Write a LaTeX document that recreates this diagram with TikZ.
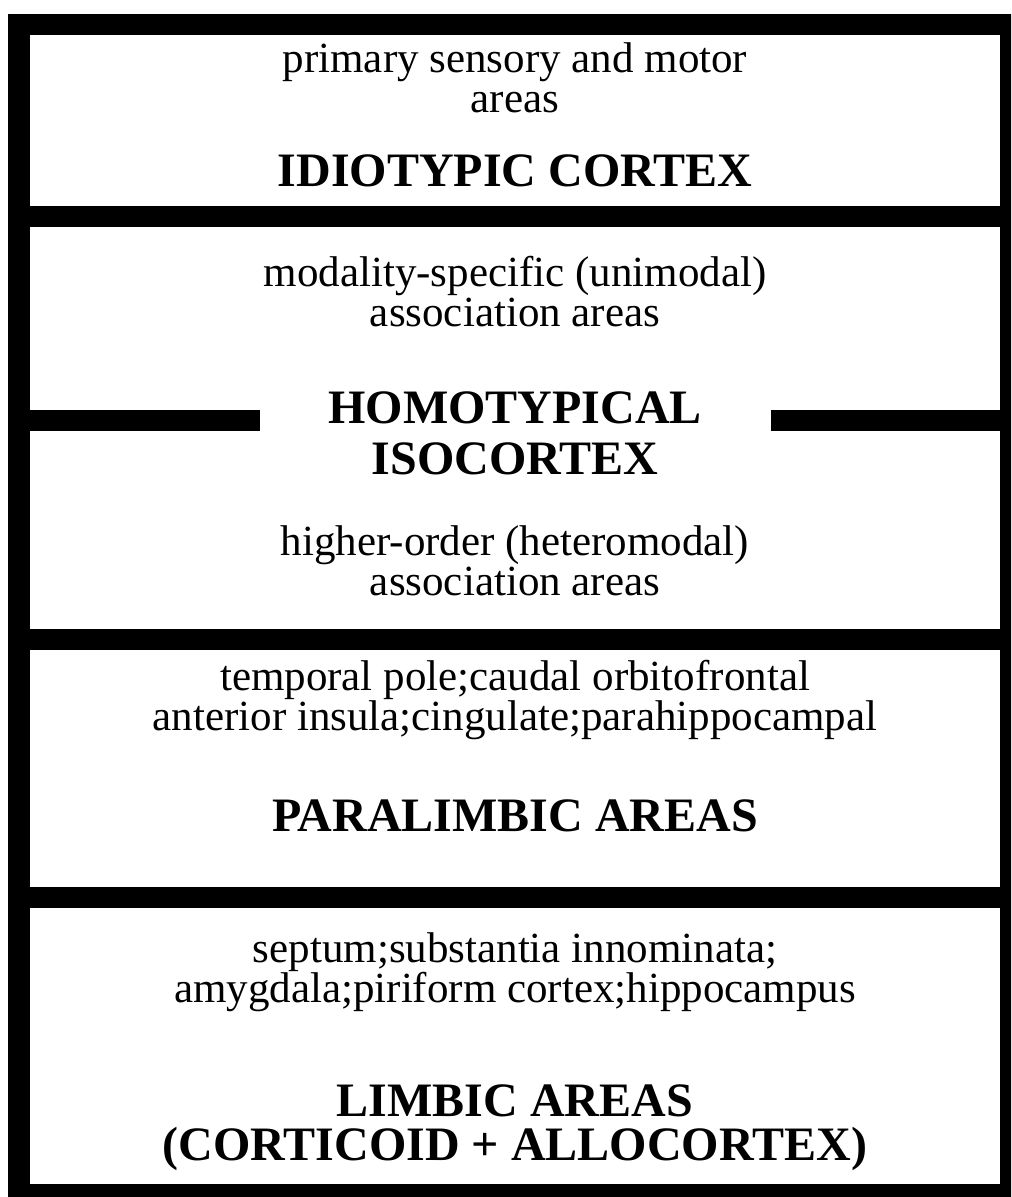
\documentclass[tikz,border=0pt]{standalone}
\usepackage{fontspec}
\setmainfont{Liberation Serif}
\tikzset{
  bar/.style={line width=10.75pt},
  areatext/.style={anchor=base, inner sep=0pt, font=\fontsize{21.5}{24}\selectfont},
  headtext/.style={anchor=base, inner sep=0pt, font=\bfseries\fontsize{24}{28}\selectfont},
}
\begin{document}
\begin{tikzpicture}[x=0.5pt, y=-0.5pt, line cap=butt]
				\clip (0,0) rectangle (1011,1197);
				% frame and dividers
				\draw[bar] (18.75,24.75) rectangle (1010.75,1194.75);
				\draw[bar] (18.75,216.5) -- (1010.75,216.5);
				\draw[bar] (18.75,420.5) -- (260,420.5);
				\draw[bar] (771,420.5) -- (1010.75,420.5);
				\draw[bar] (18.75,639.5) -- (1010.75,639.5);
				\draw[bar] (18.75,897.5) -- (1010.75,897.5);
				% idiotypic
				\node[areatext] (idio1) at (515,73) {primary sensory and motor};
				\node[areatext] (idio2) at (515,113) {areas};
				\node[headtext] (idiohead) at (515,187) {IDIOTYPIC CORTEX};
				% homotypical
				\node[areatext] (uni1) at (515,287) {modality-specific (unimodal)};
				\node[areatext] (uni2) at (515,327) {association areas};
				\node[headtext] (homohead1) at (515,423) {HOMOTYPICAL};
				\node[headtext] (homohead2) at (515,474) {ISOCORTEX};
				\node[areatext] (hetero1) at (515,555) {higher-order (heteromodal)};
				\node[areatext] (hetero2) at (515,595) {association areas};
				% paralimbic
				\node[areatext] (para1) at (515,690) {temporal pole;caudal orbitofrontal};
				\node[areatext] (para2) at (515,730) {anterior insula;cingulate;parahippocampal};
				\node[headtext] (parahead) at (515,831) {PARALIMBIC AREAS};
				% limbic
				\node[areatext] (limb1) at (515,962) {septum;substantia innominata;};
				\node[areatext] (limb2) at (515,1002) {amygdala;piriform cortex;hippocampus};
				\node[headtext] (limbhead1) at (515,1116) {LIMBIC AREAS};
				\node[headtext] (limbhead2) at (515,1160) {(CORTICOID + ALLOCORTEX)};
			\end{tikzpicture}
\end{document}
